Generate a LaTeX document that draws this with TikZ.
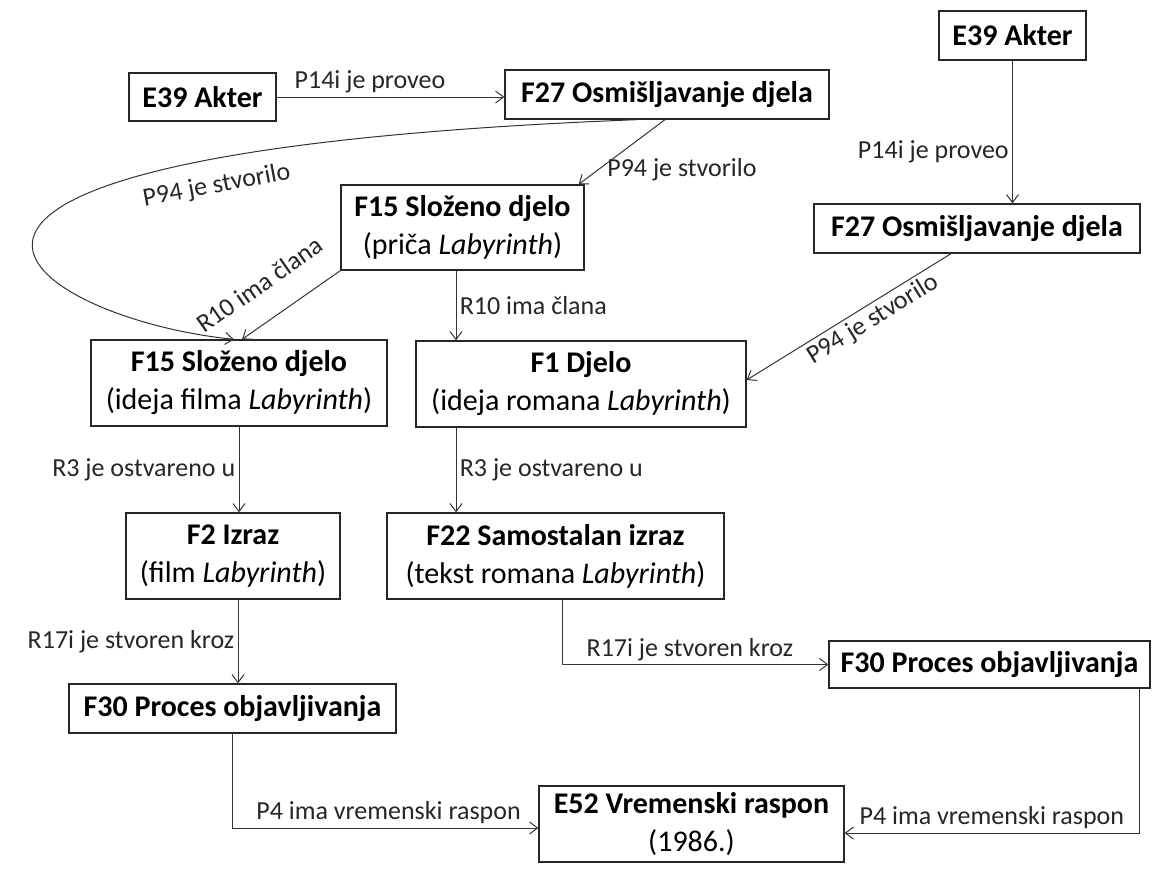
\documentclass[tikz,border=0pt]{standalone}
\usepackage{fontspec}
\setmainfont{Carlito}
\usetikzlibrary{arrows.meta}

\begin{document}
\begin{tikzpicture}[x=1pt,y=-1pt,
    box/.style={draw=black!85,line width=1.3pt,align=center,inner sep=0pt,font=\fontsize{30}{38}\selectfont},
    rel/.style={draw=black!80,line width=1pt,-{Straight Barb[length=8pt,width=12pt]}},
    lbl/.style={font=\fontsize{26}{31}\selectfont,text=black!85}]
        \useasboundingbox (0,0) rectangle (1156,868);
        \node[box,minimum width=147pt,minimum height=48pt] (actA) at (202.5,97) {\textbf{E39 Akter}};
        \node[box,minimum width=324pt,minimum height=49pt] (concA) at (667,94.5) {\textbf{F27 Osmišljavanje djela}};
        \node[box,minimum width=147pt,minimum height=49pt] (actB) at (1012.5,35.5) {\textbf{E39 Akter}};
        \node[box,minimum width=326pt,minimum height=49pt] (concB) at (977,228.5) {\textbf{F27 Osmišljavanje djela}};
        \node[box,minimum width=243pt,minimum height=85pt] (story) at (462.5,227.5) {\textbf{F15 Složeno djelo}\\(priča \textit{Labyrinth})};
        \node[box,minimum width=296pt,minimum height=86pt] (filmIdea) at (239,383) {\textbf{F15 Složeno djelo}\\(ideja filma \textit{Labyrinth})};
        \node[box,minimum width=330pt,minimum height=86pt] (novelIdea) at (581,384) {\textbf{F1 Djelo}\\(ideja romana \textit{Labyrinth})};
        \node[box,minimum width=214pt,minimum height=86pt] (film) at (233,556) {\textbf{F2 Izraz}\\(film \textit{Labyrinth})};
        \node[box,minimum width=337pt,minimum height=86pt] (novelText) at (555.5,556) {\textbf{F22 Samostalan izraz}\\(tekst romana \textit{Labyrinth})};
        \node[box,minimum width=327pt,minimum height=49pt] (pubA) at (232.5,708.5) {\textbf{F30 Proces objavljivanja}};
        \node[box,minimum width=321pt,minimum height=47pt] (pubB) at (989.5,664.5) {\textbf{F30 Proces objavljivanja}};
        \node[box,minimum width=305pt,minimum height=76pt] (span) at (691.5,824) {\textbf{E52 Vremenski raspon}\\(1986.)};
        \draw[rel] (actA.east) -- (concA.west |- actA.east) node[lbl,pos=0.41,above] {P14i je proveo};
        \draw[rel] ([xshift=-2pt]concA.south) -- ([xshift=-6pt]story.north east) node[lbl,pos=0.77,right=5pt] {P94 je stvorilo};
        \draw[rel] ([xshift=-30pt]concA.south) .. controls (-223,153.4) and (25,318) .. ([xshift=-5pt]filmIdea.north) node[lbl,pos=0.225,sloped,below=12pt] {P94 je stvorilo};
        \draw[rel] (story.south west) -- ([xshift=3pt]filmIdea.north) node[lbl,pos=0.62,sloped,above=22pt] {R10 ima člana};
        \draw[rel] ([xshift=-6.5pt]story.south) -- ([xshift=-6.5pt]story.south |- novelIdea.north) node[lbl,midway,right] {R10 ima člana};
        \draw[rel] ([xshift=-26pt]concB.south) -- ([yshift=4pt]novelIdea.east) node[lbl,pos=0.42,sloped,below] {P94 je stvorilo};
        \draw[rel] (actB.south) -- (actB.south |- concB.north) node[lbl,pos=0.64,left] {P14i je proveo};
        \draw[rel] (filmIdea.south) -- (filmIdea.south |- film.north) node[lbl,midway,left] {R3 je ostvareno u};
        \draw[rel] ([xshift=-125pt]novelIdea.south) -- ([xshift=-125pt]novelIdea.south |- novelText.north) node[lbl,midway,right] {R3 je ostvareno u};
        \draw[rel] ([xshift=5pt]film.south) -- ([xshift=5pt]film.south |- pubA.north) node[lbl,midway,left] {R17i je stvoren kroz};
        \draw[rel] ([xshift=6.5pt]novelText.south) |- (pubB.west) node[lbl,pos=0.74,above] {R17i je stvoren kroz};
        \draw[rel] (pubA.south) |- ([yshift=-4pt]span.west) node[lbl,pos=0.755,above] {P4 ima vremenski raspon};
        \draw[rel] ([xshift=149.5pt]pubB.south) |- ([yshift=-9pt]span.east) node[lbl,pos=0.75,above] {P4 ima vremenski raspon};
      \end{tikzpicture}
\end{document}
